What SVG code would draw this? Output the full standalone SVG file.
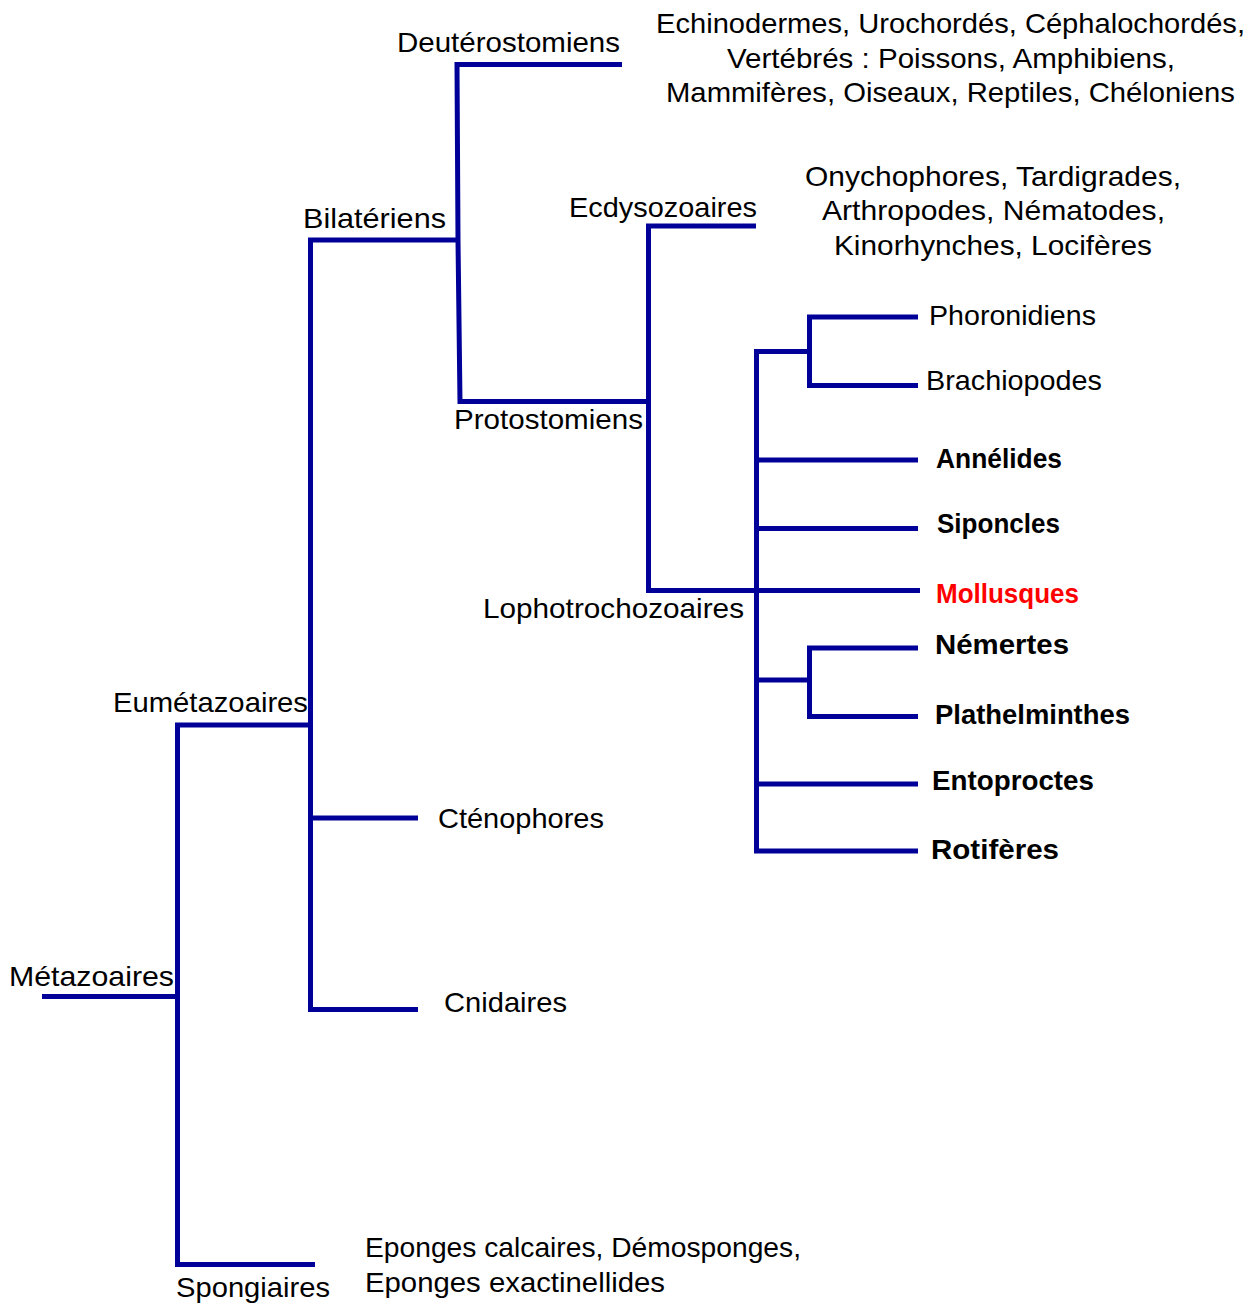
<svg xmlns="http://www.w3.org/2000/svg" width="1255" height="1309" viewBox="0 0 1255 1309">
<style>
.ln{fill:none;stroke:#000099;stroke-width:5;stroke-linejoin:miter;stroke-linecap:butt}
.t{font-family:"Liberation Sans",Arial,sans-serif;font-size:28px;fill:#000}
.b{font-weight:bold}
.red{fill:#ff0000}
</style>
<rect width="1255" height="1309" fill="#ffffff"/>
<g id="connectors">
<path class="ln" d="M42,996.5 H177.5"/>
<path class="ln" d="M310.5,725 H177.5 V1264.5 H315"/>
<path class="ln" d="M458,240 H310.5 V1009.5 H418"/>
<path class="ln" d="M310.5,818 H418"/>
<path class="ln" d="M622,64.5 H457 L458,240 L460,401.5 H648.5"/>
<path class="ln" d="M756,226 H648.5 V590.5 H920"/>
<path class="ln" d="M810,351.5 H756.5 V851 H918"/>
<path class="ln" d="M756.5,460 H918"/>
<path class="ln" d="M756.5,528.5 H918"/>
<path class="ln" d="M756.5,680 H810"/>
<path class="ln" d="M756.5,784 H918"/>
<path class="ln" d="M918,317 H809.5 V385.5 H918"/>
<path class="ln" d="M918,648 H809.5 V716.5 H918"/>
</g>
<g id="metazoaires"><text class="t" x="9" y="986" textLength="165" lengthAdjust="spacingAndGlyphs">Métazoaires</text></g>
<g id="eumetazoaires"><text class="t" x="113" y="712" textLength="195" lengthAdjust="spacingAndGlyphs">Eumétazoaires</text></g>
<g id="spongiaires"><text class="t" x="176" y="1297" textLength="154" lengthAdjust="spacingAndGlyphs">Spongiaires</text></g>
<g id="eponges">
<text class="t" x="365" y="1257" textLength="436" lengthAdjust="spacingAndGlyphs">Eponges calcaires, Démosponges,</text>
<text class="t" x="365" y="1292" textLength="300" lengthAdjust="spacingAndGlyphs">Eponges exactinellides</text>
</g>
<g id="bilateriens"><text class="t" x="303" y="228" textLength="143" lengthAdjust="spacingAndGlyphs">Bilatériens</text></g>
<g id="ctenophores"><text class="t" x="438" y="828" textLength="166" lengthAdjust="spacingAndGlyphs">Cténophores</text></g>
<g id="cnidaires"><text class="t" x="444" y="1012" textLength="123" lengthAdjust="spacingAndGlyphs">Cnidaires</text></g>
<g id="deuterostomiens"><text class="t" x="397" y="52" textLength="223" lengthAdjust="spacingAndGlyphs">Deutérostomiens</text></g>
<g id="deutero-list">
<text class="t" x="656" y="33" textLength="589" lengthAdjust="spacingAndGlyphs">Echinodermes, Urochordés, Céphalochordés,</text>
<text class="t" x="727" y="68" textLength="448" lengthAdjust="spacingAndGlyphs">Vertébrés : Poissons, Amphibiens,</text>
<text class="t" x="666" y="102" textLength="569" lengthAdjust="spacingAndGlyphs">Mammifères, Oiseaux, Reptiles, Chéloniens</text>
</g>
<g id="protostomiens"><text class="t" x="454" y="429" textLength="189" lengthAdjust="spacingAndGlyphs">Protostomiens</text></g>
<g id="ecdysozoaires"><text class="t" x="569" y="217" textLength="188" lengthAdjust="spacingAndGlyphs">Ecdysozoaires</text></g>
<g id="ecdyso-list">
<text class="t" x="805" y="186" textLength="376" lengthAdjust="spacingAndGlyphs">Onychophores, Tardigrades,</text>
<text class="t" x="822" y="220" textLength="343" lengthAdjust="spacingAndGlyphs">Arthropodes, Nématodes,</text>
<text class="t" x="834" y="255" textLength="318" lengthAdjust="spacingAndGlyphs">Kinorhynches, Locifères</text>
</g>
<g id="lophotrochozoaires"><text class="t" x="483" y="618" textLength="261" lengthAdjust="spacingAndGlyphs">Lophotrochozoaires</text></g>
<g id="phoronidiens"><text class="t" x="929" y="325" textLength="167" lengthAdjust="spacingAndGlyphs">Phoronidiens</text></g>
<g id="brachiopodes"><text class="t" x="926" y="390" textLength="176" lengthAdjust="spacingAndGlyphs">Brachiopodes</text></g>
<g id="annelides"><text class="t b" x="936" y="468" textLength="126" lengthAdjust="spacingAndGlyphs">Annélides</text></g>
<g id="siponcles"><text class="t b" x="937" y="533" textLength="123" lengthAdjust="spacingAndGlyphs">Siponcles</text></g>
<g id="mollusques"><text class="t b red" x="936" y="603" textLength="143" lengthAdjust="spacingAndGlyphs">Mollusques</text></g>
<g id="nemertes"><text class="t b" x="935" y="654" textLength="134" lengthAdjust="spacingAndGlyphs">Némertes</text></g>
<g id="plathelminthes"><text class="t b" x="935" y="724" textLength="195" lengthAdjust="spacingAndGlyphs">Plathelminthes</text></g>
<g id="entoproctes"><text class="t b" x="932" y="790" textLength="162" lengthAdjust="spacingAndGlyphs">Entoproctes</text></g>
<g id="rotiferes"><text class="t b" x="931" y="859" textLength="128" lengthAdjust="spacingAndGlyphs">Rotifères</text></g>
</svg>
